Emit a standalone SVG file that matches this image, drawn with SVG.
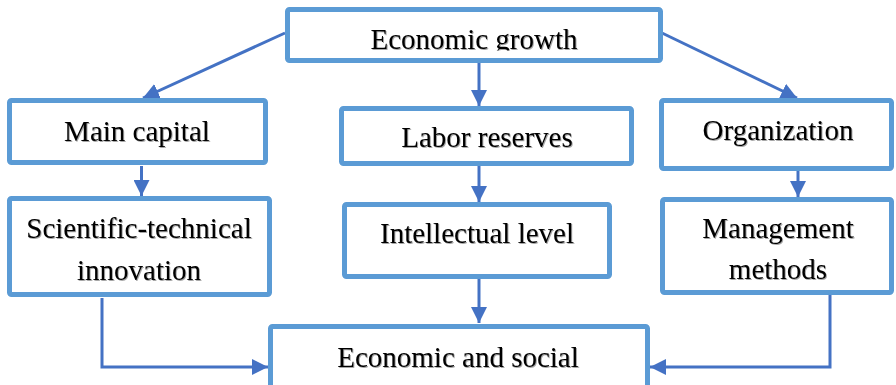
<svg xmlns="http://www.w3.org/2000/svg" width="896" height="385" viewBox="0 0 896 385">
<style>
.box{fill:#fff;stroke:#5B9BD5;stroke-width:5}
.t{font-family:"Liberation Serif","Times New Roman",serif;font-size:29px;fill:#000;text-anchor:middle;filter:url(#sh)}
.c{fill:none;stroke:#4472C4;stroke-width:3;marker-end:url(#ah)}
</style>
<defs>
<marker id="ah" viewBox="0 0 16 16" refX="16" refY="8" markerWidth="16" markerHeight="16" orient="auto" markerUnits="userSpaceOnUse">
<path d="M0,0 L16,8 L0,16 z" fill="#4472C4"/>
</marker>
<filter id="sh" x="-5%" y="-20%" width="110%" height="140%">
<feDropShadow dx="1" dy="1" stdDeviation="0.7" flood-color="#000" flood-opacity="0.35"/>
</filter>
<clipPath id="clipTop"><rect x="287" y="9" width="373" height="41.5"/></clipPath>
</defs>
<rect width="896" height="385" fill="#fff"/>
<g id="connectors">
<line class="c" x1="285" y1="33" x2="143" y2="98"/>
<line class="c" x1="662" y1="33" x2="797" y2="98"/>
<line class="c" x1="479" y1="63" x2="479" y2="106"/>
<line class="c" x1="141.5" y1="166" x2="141.5" y2="196"/>
<line class="c" x1="479" y1="166" x2="479" y2="202"/>
<line class="c" x1="798" y1="171" x2="798" y2="197"/>
<line class="c" x1="479" y1="279" x2="479" y2="323"/>
<path class="c" d="M102,298 V367 H268"/>
<path class="c" d="M830,294 V367 H650"/>
</g>
<g id="economic-growth">
<rect class="box" x="287.5" y="9.5" width="373" height="51" rx="2"/>
<g clip-path="url(#clipTop)"><text class="t" x="474" y="49">Economic growth</text></g>
</g>
<g id="main-capital">
<rect class="box" x="9.5" y="100.5" width="256" height="62" rx="2"/>
<text class="t" x="137" y="141">Main capital</text>
</g>
<g id="scientific-technical">
<rect class="box" x="9.5" y="198.5" width="260" height="96" rx="2"/>
<text class="t" x="139" y="238">Scientific-technical</text>
<text class="t" x="139" y="280">innovation</text>
</g>
<g id="labor-reserves">
<rect class="box" x="341.5" y="108.5" width="290" height="55" rx="2"/>
<text class="t" x="487" y="147">Labor reserves</text>
</g>
<g id="intellectual-level">
<rect class="box" x="344.5" y="204.5" width="265" height="72" rx="2"/>
<text class="t" x="477" y="243">Intellectual level</text>
</g>
<g id="organization">
<rect class="box" x="661.5" y="100.5" width="230" height="68" rx="2"/>
<text class="t" x="778" y="140">Organization</text>
</g>
<g id="management-methods">
<rect class="box" x="662.5" y="199.5" width="229" height="93" rx="2"/>
<text class="t" x="778" y="238">Management</text>
<text class="t" x="778" y="279">methods</text>
</g>
<g id="economic-social">
<rect class="box" x="270.5" y="326.5" width="377" height="64" rx="2"/>
<text class="t" x="458" y="367">Economic and social</text>
</g>
</svg>
